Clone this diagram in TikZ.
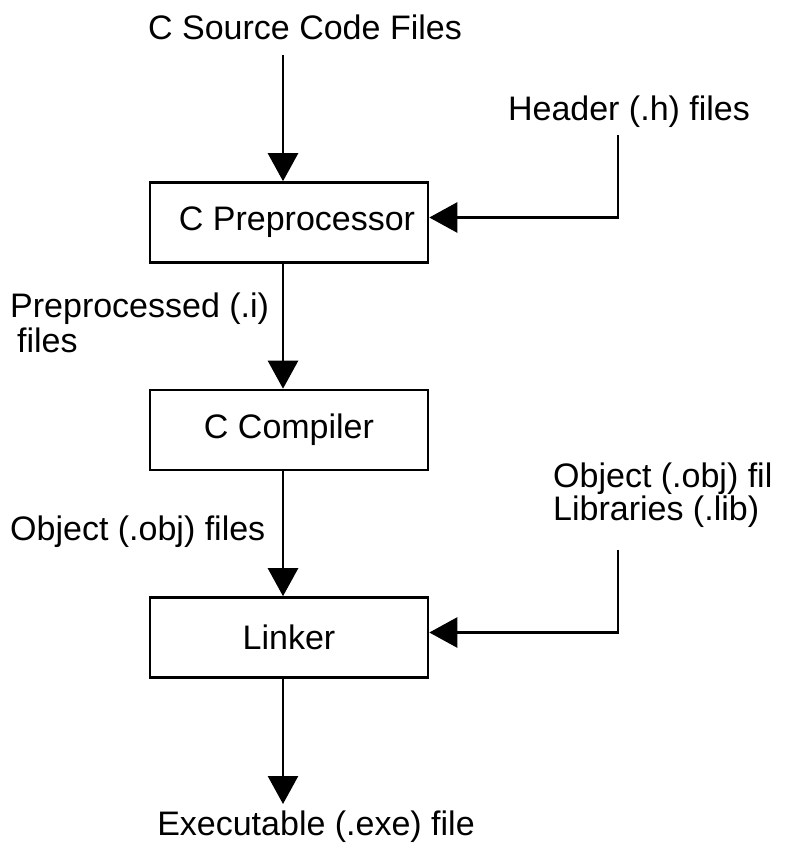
\documentclass[tikz,border=0pt]{standalone}
\usepackage{fontspec}
\setmainfont{Liberation Sans}
\usetikzlibrary{arrows.meta}
\begin{document}
\begin{tikzpicture}[x=1pt,y=-1pt,
  font=\fontsize{34}{35}\selectfont,
  stagebox/.style={draw,line width=2.6pt,minimum width=278pt,minimum height=80pt,inner sep=0pt},
  lbl/.style={inner sep=0pt},
  flow/.style={line width=2.6pt,-{Triangle[length=28pt,width=30pt]}},
  wire/.style={line width=2.6pt}]
\useasboundingbox (0,0) rectangle (793,843);
\coordinate (axis) at (283,0);
% texts
\node[lbl,anchor=base] (src) at (305,40) {C Source Code Files};
\node[lbl,anchor=base] (hdr) at (629,120) {Header (.h) files};
\node[lbl,anchor=base west,align=left] (ppf) at (10,352) {Preprocessed (.i)\\\hspace*{7pt}files};
\node[lbl,anchor=base west] (objf) at (10,540) {Object (.obj) files};
\node[lbl,anchor=base west,align=left,font=\fontsize{34}{33}\selectfont] (libs) at (553,520) {Object (.obj) fil\\Libraries (.lib)};
\node[lbl,anchor=base] (exe) at (316,835) {Executable (.exe) file};
% boxes
\node[stagebox] (pre) at (289,222.5) {\hspace*{16pt}C Preprocessor};
\node[stagebox] (cc) at (289,430) {C Compiler};
\node[stagebox] (lnk) at (289,637.5) {Linker};
% connector points
\coordinate (srcbot) at (283,55);
\coordinate (hdrdrop) at (618,135);
\coordinate (libdrop) at (618,550);
\coordinate (exetop) at (283,804);
% connectors
\draw[flow] (srcbot) -- (pre.north -| axis);
\draw[flow] (pre.south -| axis) -- (cc.north -| axis);
\draw[flow] (cc.south -| axis) -- (lnk.north -| axis);
\draw[flow] (lnk.south -| axis) -- (exetop);
\draw[flow] (hdrdrop) |- ([yshift=5pt]pre.east);
\draw[flow] (libdrop) |- ([yshift=5pt]lnk.east);
\end{tikzpicture}
\end{document}
